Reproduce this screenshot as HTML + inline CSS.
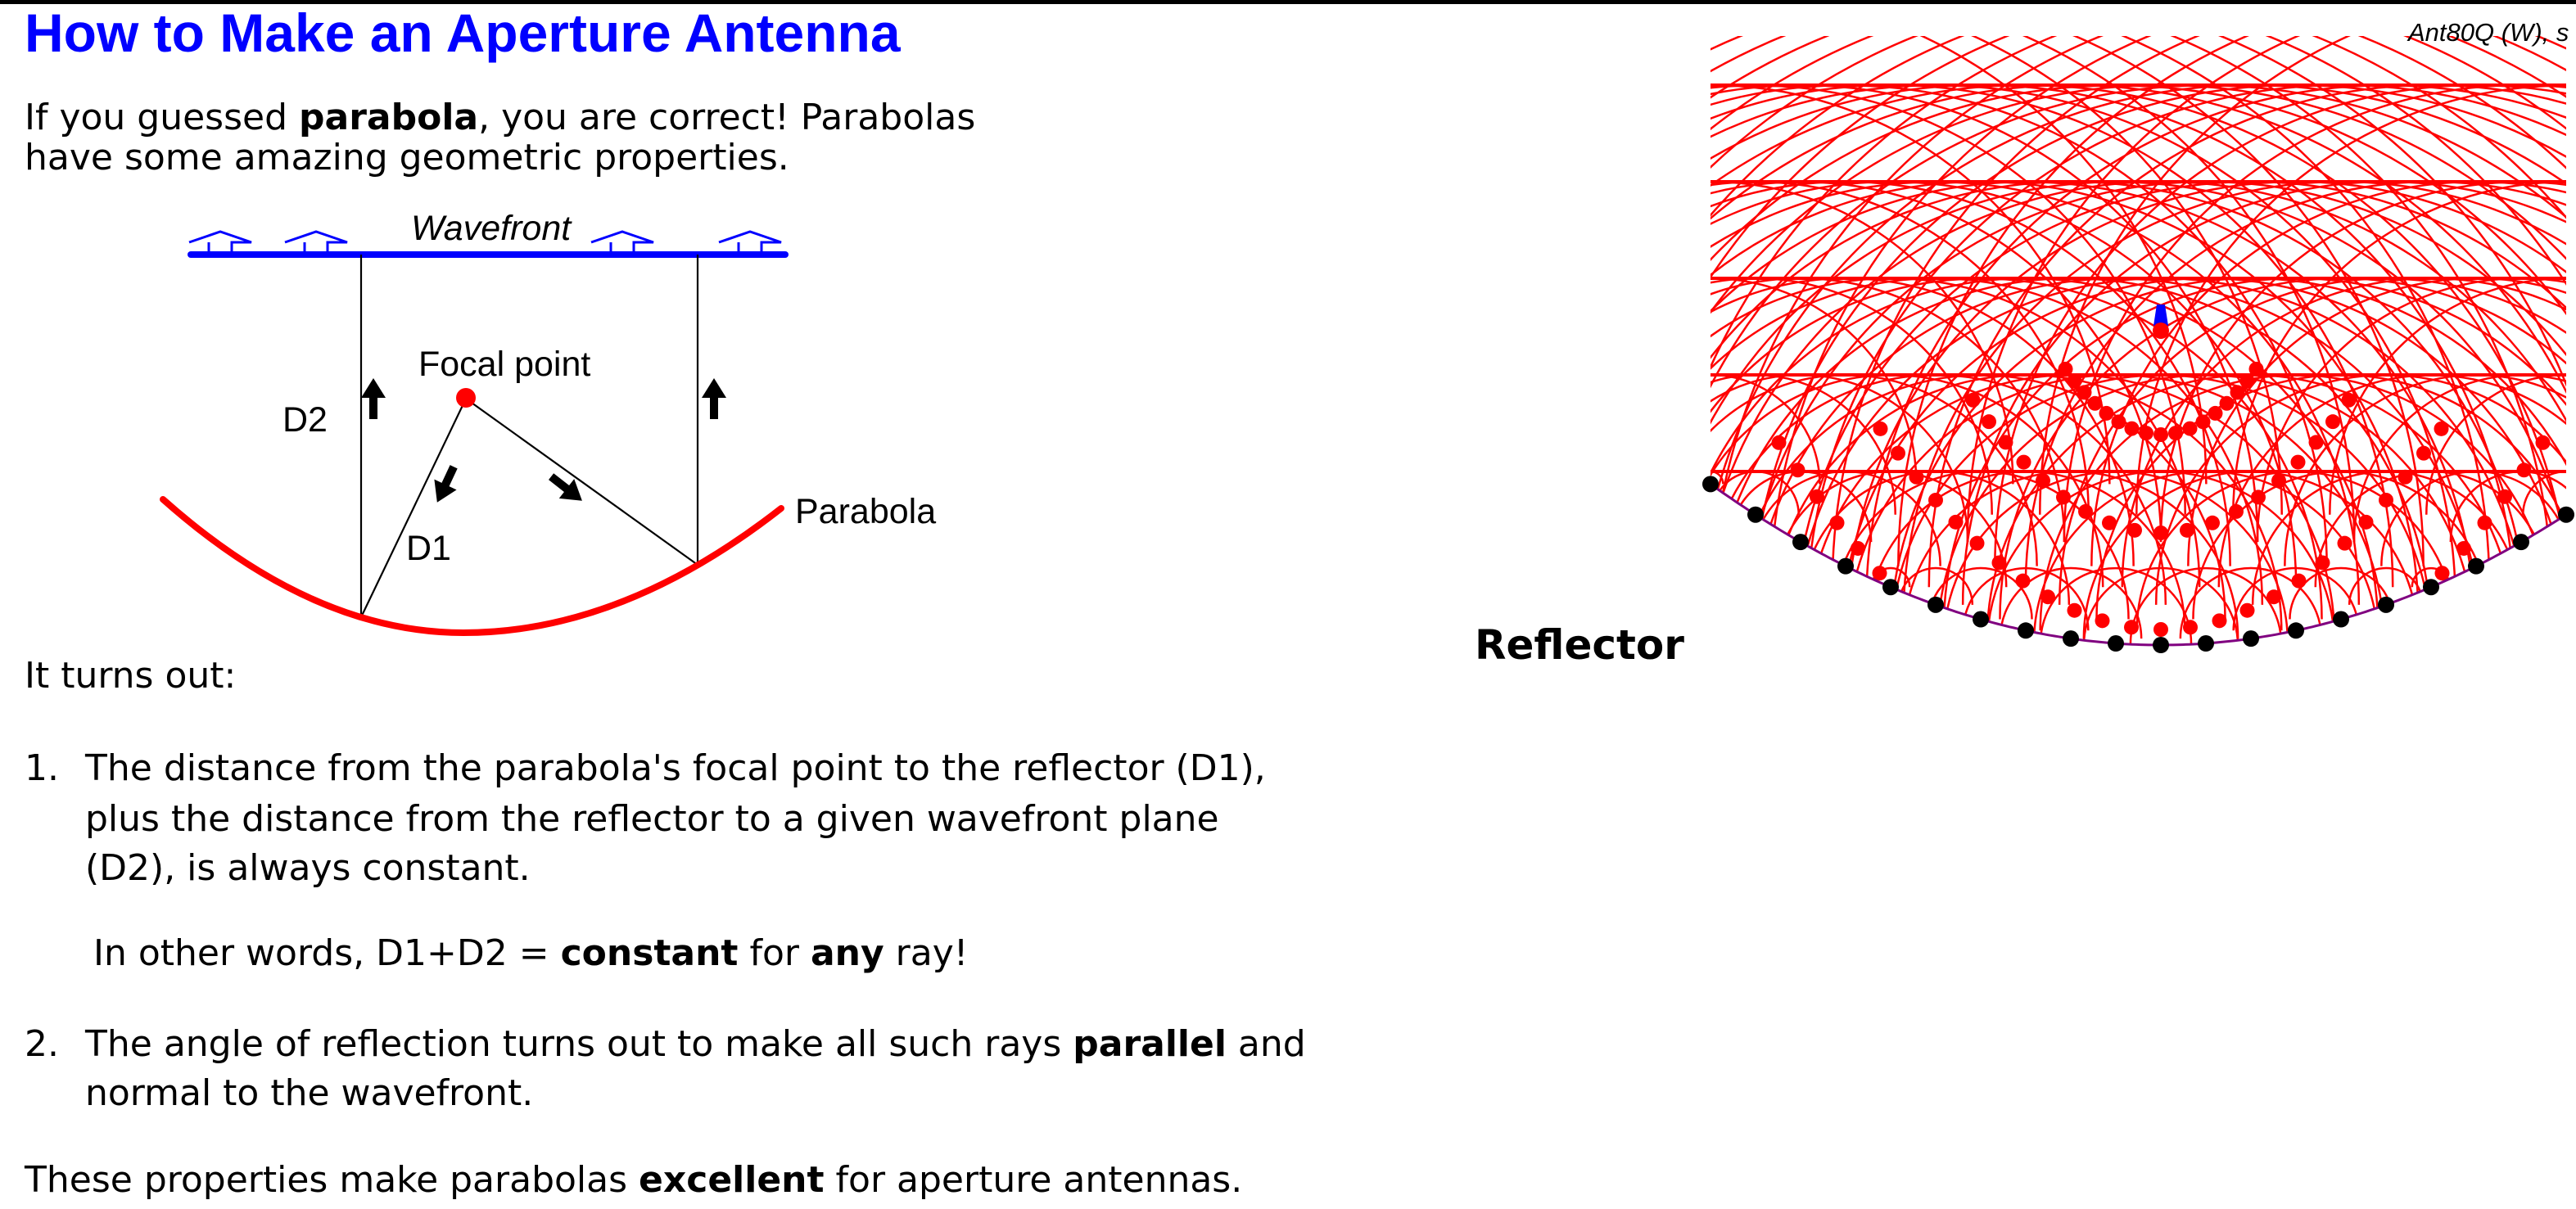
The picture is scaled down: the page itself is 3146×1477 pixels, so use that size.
<!DOCTYPE html>
<html><head><meta charset="utf-8">
<style>
html,body{margin:0;padding:0;background:#fff;}
body{width:3146px;height:1477px;position:relative;overflow:hidden;}
.t{position:absolute;white-space:nowrap;font-family:"DejaVu Sans","Liberation Sans",sans-serif;font-size:44px;line-height:52px;color:#000;}
.h{position:absolute;left:30px;top:6px;font-family:"Liberation Sans",sans-serif;font-weight:bold;font-size:66px;line-height:68px;color:#0000ff;white-space:nowrap;}
svg{position:absolute;left:0;top:0;}
</style></head><body>
<div style="position:absolute;left:0;top:0;width:3146px;height:5px;background:#000"></div>
<div class="h">How to Make an Aperture Antenna</div>
<div class="t" style="left:30px;top:118px">If you guessed <b>parabola</b>, you are correct! Parabolas</div>
<div class="t" style="left:30px;top:167px">have some amazing geometric properties.</div>
<div class="t" style="left:30px;top:800px">It turns out:</div>
<div class="t" style="left:30px;top:913px">1.</div>
<div class="t" style="left:104px;top:913px">The distance from the parabola's focal point to the reflector (D1),</div>
<div class="t" style="left:104px;top:975px">plus the distance from the reflector to a given wavefront plane</div>
<div class="t" style="left:104px;top:1035px">(D2), is always constant.</div>
<div class="t" style="left:114px;top:1139px">In other words, D1+D2 = <b>constant</b> for <b>any</b> ray!</div>
<div class="t" style="left:30px;top:1250px">2.</div>
<div class="t" style="left:104px;top:1250px">The angle of reflection turns out to make all such rays <b>parallel</b> and</div>
<div class="t" style="left:104px;top:1310px">normal to the wavefront.</div>
<div class="t" style="left:30px;top:1416px">These properties make parabolas <b>excellent</b> for aperture antennas.</div>
<div class="t" style="left:1801px;top:758px;font-size:50px;line-height:60px;font-weight:bold">Reflector</div>

<svg width="3146" height="1477" viewBox="0 0 3146 1477" xmlns="http://www.w3.org/2000/svg">
 <g font-family="Liberation Sans, sans-serif" font-size="43" fill="#000">
  <text x="502" y="293" font-style="italic">Wavefront</text>
  <text x="511" y="459">Focal point</text>
  <text x="345" y="527">D2</text>
  <text x="496" y="684">D1</text>
  <text x="971" y="639">Parabola</text>
 </g>
 <line x1="233" y1="311" x2="959" y2="311" stroke="#0000ff" stroke-width="8" stroke-linecap="round"/>
 <g fill="none" stroke="#0000ff" stroke-width="3">
  <path d="M231 296 L269 283 L307 296 L283 296 L283 309 M255 309 L255 296 Z"/>
  <path d="M348 296 L386 283 L424 296 L400 296 L400 309 M372 309 L372 296 Z"/>
  <path d="M722 296 L760 283 L798 296 L774 296 L774 309 M746 309 L746 296 Z"/>
  <path d="M878 296 L916 283 L954 296 L930 296 L930 309 M902 309 L902 296 Z"/>
 </g>
 <g stroke="#000" stroke-width="2.2" fill="none">
  <line x1="441" y1="311" x2="441" y2="754"/>
  <line x1="852" y1="311" x2="852" y2="690"/>
  <line x1="569" y1="487" x2="441" y2="754"/>
  <line x1="569" y1="487" x2="852" y2="690"/>
 </g>
 <path d="M199 610 Q382 773 566 773 Q760 773 954 621" fill="none" stroke="#ff0000" stroke-width="8" stroke-linecap="round"/>
 <circle cx="569" cy="486" r="12" fill="#ff0000"/>
 <g fill="#000">
  <path d="M456 462 L471 486 L461 486 L461 512 L451 512 L451 486 L441 486 Z"/>
  <path d="M872 462 L887 486 L877 486 L877 512 L867 512 L867 486 L857 486 Z"/>
  <path transform="translate(544 592) rotate(-155)" d="M0 -24 L15 0 L5 0 L5 24 L-5 24 L-5 0 L-15 0 Z"/>
  <path transform="translate(692 597) rotate(128)" d="M0 -24 L15 0 L5 0 L5 24 L-5 24 L-5 0 L-15 0 Z"/>
 </g>
 <g id="rt"></g>
 <text x="2941" y="50" font-family="Liberation Sans, sans-serif" font-style="italic" font-size="31" fill="#000">Ant80Q (W), s</text>
</svg>
<script>
(function(){
var NS="http://www.w3.org/2000/svg",g=document.getElementById("rt");
function el(n,a){var e=document.createElementNS(NS,n);for(var k in a)e.setAttribute(k,a[k]);return e;}
var A=6.5e-4,X0=2639,Y0=788;
function py(x){return Y0-A*(x-X0)*(x-X0);}
var dots=[];for(var k=-10;k<=9;k++){var x=X0+55*k;dots.push([x,py(x)]);}
var defs=el("defs",{});var cp=el("clipPath",{id:"cl"});
var d="M2092 44 L3134 44 L3134 "+py(3134).toFixed(1);
for(var x=3134;x>=2089;x-=5)d+=" L"+x+" "+py(x).toFixed(1);
d+=" L2089 44 Z";cp.appendChild(el("path",{d:d}));defs.appendChild(cp);g.appendChild(defs);
var cg=el("g",{"clip-path":"url(#cl)",fill:"none",stroke:"#ff0000","stroke-width":"2.5"});
g.appendChild(cg);
for(var m=-1;m<=5;m++){var Y=104+118*m;
 dots.forEach(function(p){var r=p[1]-Y;if(r<=2)return;
  cg.appendChild(el("path",{d:"M"+(p[0]-r)+" "+p[1]+" A"+r+" "+r+" 0 0 1 "+(p[0]+r)+" "+p[1]}));});
 if(m>=0&&m<=4)cg.appendChild(el("line",{x1:2089,y1:Y,x2:3134,y2:Y,"stroke-width":"4"}));
}
var dg=el("g",{"clip-path":"url(#cl)",fill:"#ff0000"});g.appendChild(dg);
var curves=[[531,5.9e-3,121,18],[651,3.08e-3,233,32],[769,2.09e-3,344,36],[889,1.6e-3,470,40]];
curves.forEach(function(c){
 var pts=[[0,c[0]]];var prev=[X0,c[0]],acc=0;
 for(var dx=0.5;dx<=c[2];dx+=0.5){var y=c[0]-c[1]*dx*dx;var x=X0+dx;
  acc+=Math.hypot(x-prev[0],y-prev[1]);prev=[x,y];
  if(acc>=c[3]){acc=0;pts.push([dx,y]);}}
 pts.forEach(function(p){
  [1,-1].forEach(function(sg){if(p[0]==0&&sg<0)return;var x=X0+sg*p[0];
   if(p[1]<py(x)-8)dg.appendChild(el("circle",{cx:x,cy:p[1],r:9}));});});
});
g.appendChild(el("path",{d:(function(){var s="M2089 "+py(2089);for(var x=2094;x<=3134;x+=5)s+=" L"+x+" "+py(x).toFixed(1);return s;})(),fill:"none",stroke:"#800080","stroke-width":"3"}));
dots.forEach(function(p){g.appendChild(el("circle",{cx:p[0],cy:p[1],r:10,fill:"#000"}));});
g.appendChild(el("path",{d:"M2634 372 L2644 372 L2648 398 L2630 398 Z",fill:"#0000ff"}));
g.appendChild(el("circle",{cx:2639,cy:404,r:10,fill:"#ff0000"}));
})();
</script>
</body></html>
